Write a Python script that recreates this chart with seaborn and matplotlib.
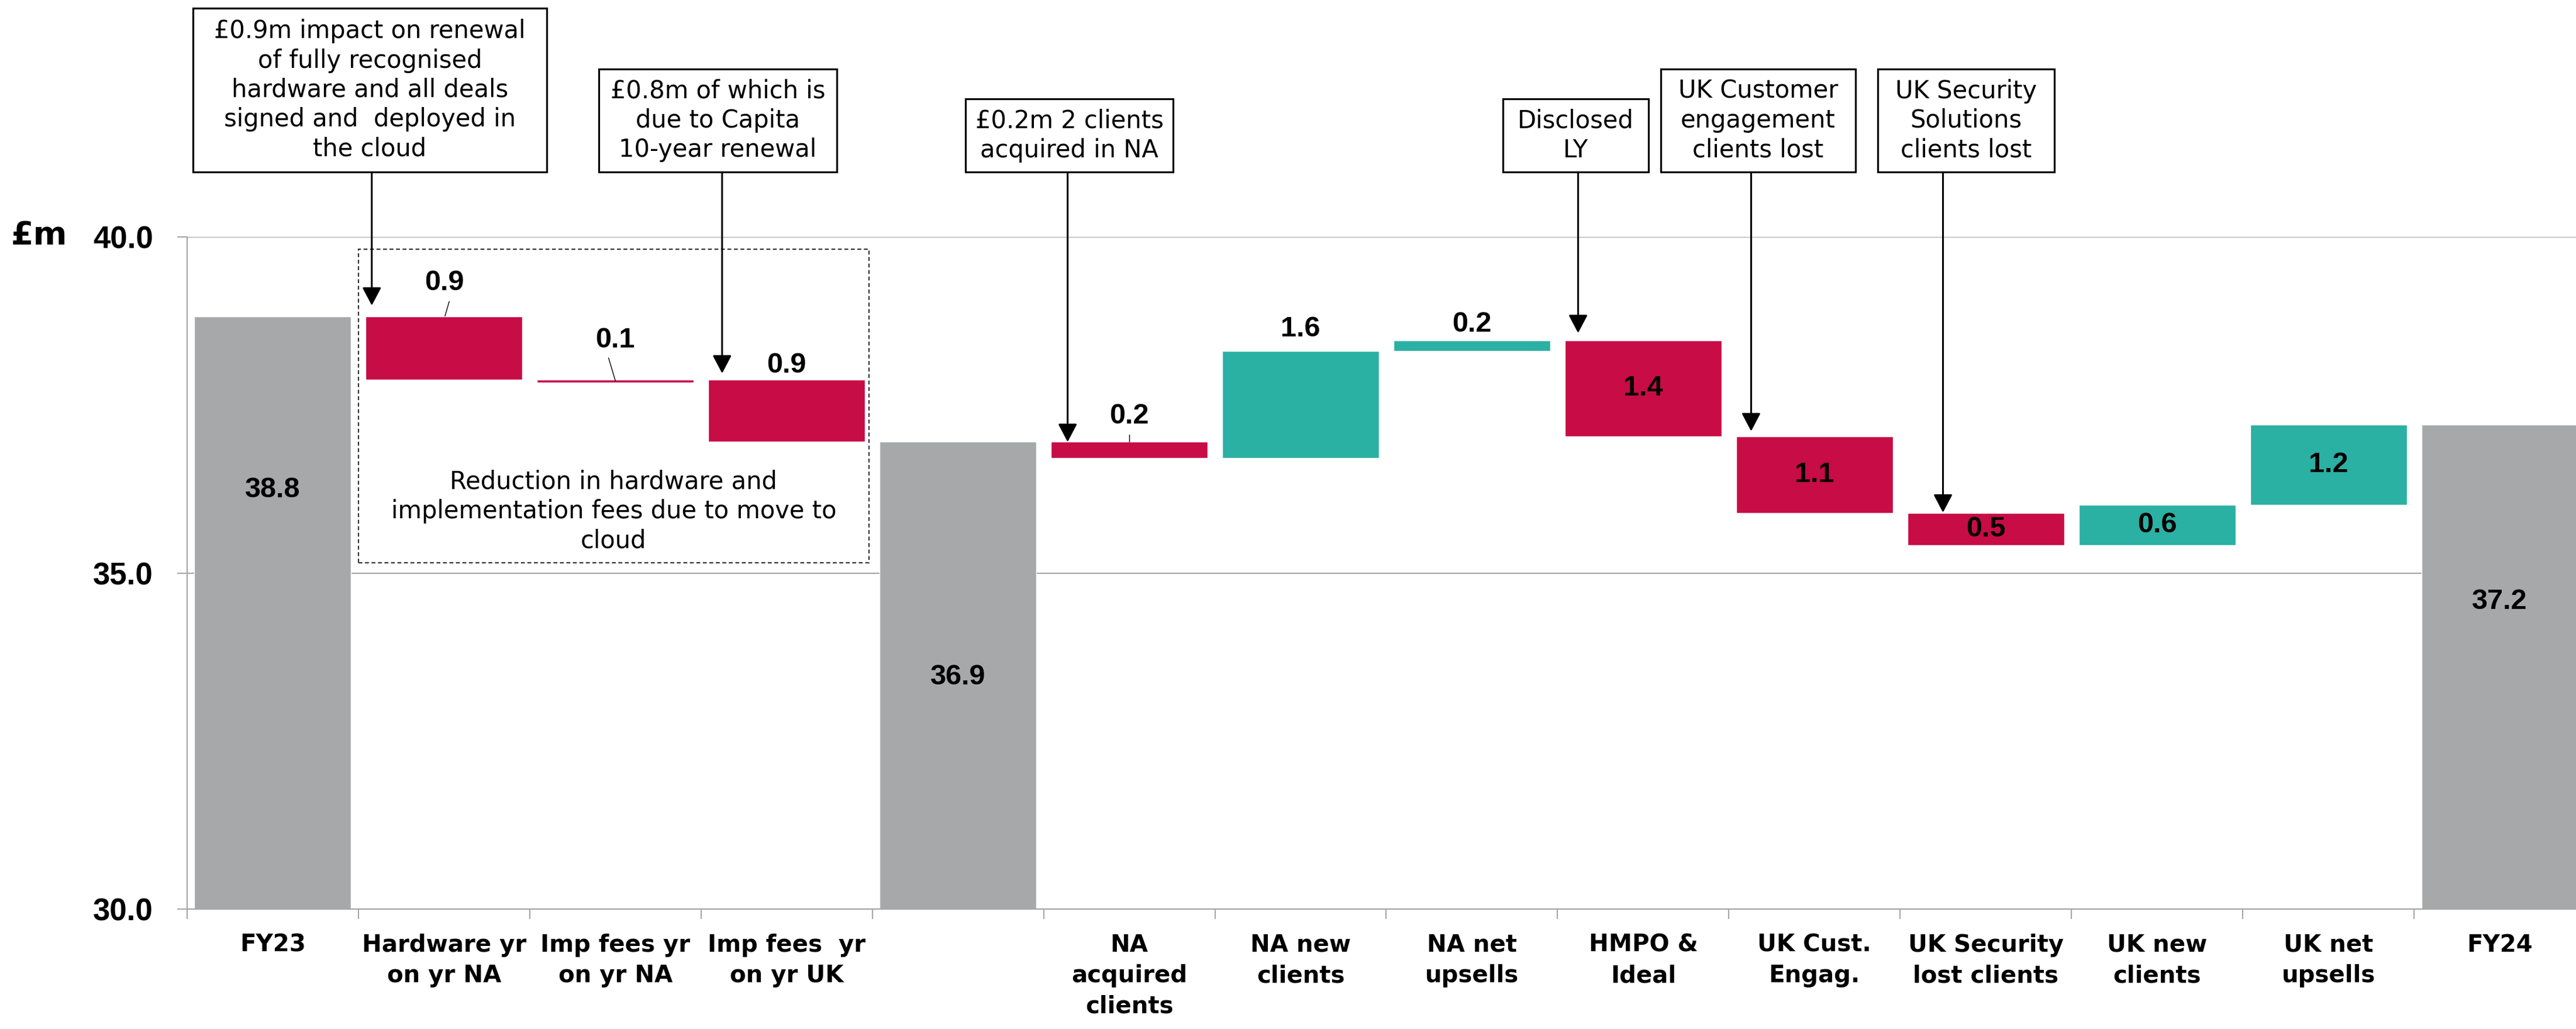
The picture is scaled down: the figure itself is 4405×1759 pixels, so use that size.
import matplotlib
matplotlib.use("Agg")
import matplotlib.pyplot as plt
import matplotlib.patches as mpatches
import pandas as pd
import seaborn as sns

# Chart data
tick_labels = ["FY23", "Hardware yr\non yr NA", "Imp fees yr\non yr NA", "Imp fees  yr\non yr UK", "",
               "NA\nacquired\nclients", "NA new\nclients", "NA net\nupsells", "HMPO &\nIdeal",
               "UK Cust.\nEngag.", "UK Security\nlost clients", "UK new\nclients", "UK net\nupsells", "FY24"]
kinds = ["total", "down", "down", "down", "total", "down", "up", "up", "down", "down", "down", "up", "up", "total"]
bar_start = [30.0, 38.82, 37.88, 37.88, 30.0, 36.95, 36.71, 38.30, 38.46, 37.03, 35.89, 35.41, 36.01, 30.0]
bar_end = [38.82, 37.88, 37.83, 36.95, 36.95, 36.71, 38.30, 38.46, 37.03, 35.89, 35.41, 36.01, 37.21, 37.21]
value_text = ["38.8", "0.9", "0.1", "0.9", "36.9", "0.2", "1.6", "0.2", "1.4", "1.1", "0.5", "0.6", "1.2", "37.2"]

note_text = [
    "£0.9m impact on renewal\nof fully recognised\nhardware and all deals\nsigned and  deployed in\nthe cloud",
    "£0.8m of which is\ndue to Capita\n10-year renewal",
    "£0.2m 2 clients\nacquired in NA",
    "Disclosed\nLY",
    "UK Customer\nengagement\nclients lost",
    "UK Security\nSolutions\nclients lost",
]
box_text = "Reduction in hardware and\nimplementation fees due to move to\ncloud"

# layout (label positions, call-out boxes in pixels, arrows)
label_y = [36.24, 39.32, 38.46, 38.09, 33.45, 37.33, 38.63, 38.70, 37.75, 36.46, 35.65, 35.71, 36.61, 34.57]
note_box = [(330, 935, 14, 294), (1024, 1431, 118, 294), (1651, 2006, 169, 294),
            (2570, 2819, 169, 294), (2840, 3173, 118, 294), (3211, 3513, 118, 294)]
note_x = [0.578, 2.623, 4.64, 7.62, 8.63, 9.75]
note_tip = [38.98, 37.97, 36.95, 38.57, 37.11, 35.90]
leaders = [((1.005, 38.82), (1.03, 39.04)), ((2.0, 37.86), (1.96, 38.20)), ((5.0, 36.95), (5.0, 37.06))]

colors = {"total": "#A7A8AA", "down": "#C70C46", "up": "#2BB0A4"}

df = pd.DataFrame({
    "slot": list(range(len(tick_labels))),
    "kind": kinds,
    "low": [min(a, b) for a, b in zip(bar_start, bar_end)],
    "height": [abs(b - a) for a, b in zip(bar_start, bar_end)],
})

sns.set_theme(style="white")
plt.rcParams["font.family"] = ["DejaVu Sans"]
plt.rcParams["text.color"] = "black"
plt.rcParams["xtick.labelcolor"] = "black"
plt.rcParams["ytick.labelcolor"] = "black"
num_font = ["Liberation Sans", "DejaVu Sans"]

W, H = 4405, 1759
fig = plt.figure(figsize=(W / 100, H / 100), dpi=100)
ax = fig.add_axes([320 / W, 1 - 1554 / H, (4421 - 320) / W, (1554 - 405) / H])

order = list(range(len(tick_labels)))
for k in ["total", "down", "up"]:
    sub = df[df["kind"] == k]
    sns.barplot(data=sub, x="slot", y="height", order=order, bottom=sub["low"].to_numpy(),
                color=colors[k], width=0.915, errorbar=None, saturation=1, ax=ax, zorder=2)

ax.set_ylim(30, 40)
ax.set_xlim(-0.5, len(tick_labels) - 0.5)
ax.set_yticks([30, 35, 40])
ax.set_yticklabels(["30.0", "35.0", "40.0"], fontsize=38, fontweight="bold", family=num_font, color="black")
ax.set_xticks(order)
ax.set_xticklabels(tick_labels, fontsize=29, fontweight="bold", linespacing=1.4, va="top", color="black")
ax.set_xticks([i - 0.5 for i in range(len(tick_labels) + 1)], minor=True)
ax.tick_params(axis="x", which="major", length=0, pad=30)
ax.tick_params(axis="x", which="minor", length=12, width=1.5, color="#A6A6A6", direction="out", bottom=True)
ax.tick_params(axis="y", length=12, width=1.5, color="#A6A6A6", direction="out", left=True, pad=30)
ax.set_xlabel("")
ax.set_ylabel("")
ax.yaxis.grid(True, color="#A6A6A6", linewidth=1.6, zorder=0)
ax.set_axisbelow(True)
for s in ["top", "right"]:
    ax.spines[s].set_visible(False)
for s in ["left", "bottom"]:
    ax.spines[s].set_color("#A6A6A6")
    ax.spines[s].set_linewidth(1.6)

# value labels
for i, (txt, y) in enumerate(zip(value_text, label_y)):
    ax.text(i, y, txt, ha="center", va="center", fontsize=35, fontweight="bold", family=num_font,
            color="black", zorder=5)
for (x0, y0), (x1, y1) in leaders:
    ax.plot([x0, x1], [y0, y1], color="black", linewidth=1.0, zorder=5)

# dashed grouping box
ax.add_patch(mpatches.Rectangle((0.5, 35.15), 2.98, 4.67, fill=False, edgecolor="#333333",
                                linewidth=1.6, linestyle=(0, (3, 2)), zorder=4, clip_on=False))
ax.text(1.99, 35.92, box_text, ha="center", va="center", fontsize=30, linespacing=1.25,
        color="black", zorder=5)

# call-out boxes with arrows
for txt, (x0, x1, y0, y1), xa, tip in zip(note_text, note_box, note_x, note_tip):
    rect = mpatches.Rectangle((x0 / W, 1 - y1 / H), (x1 - x0) / W, (y1 - y0) / H,
                              transform=fig.transFigure, facecolor="white", edgecolor="black",
                              linewidth=2.3, zorder=6)
    fig.add_artist(rect)
    fig.text((x0 + x1) / 2 / W, 1 - (y0 + y1) / 2 / H, txt, ha="center", va="center",
             fontsize=30, linespacing=1.25, color="black", zorder=7)
    ax.annotate("", xy=(xa, tip), xycoords="data", xytext=(xa, 1 - y1 / H),
                textcoords=("data", "figure fraction"), annotation_clip=False,
                arrowprops=dict(arrowstyle="-|>,head_length=0.95,head_width=0.5", mutation_scale=20,
                                color="black", linewidth=2.2, shrinkA=0, shrinkB=0), zorder=6)

fig.text(19 / W, 1 - 418 / H, "£m", fontsize=40, fontweight="bold", va="baseline", ha="left", color="black")

fig.savefig("out.png", dpi=100)
